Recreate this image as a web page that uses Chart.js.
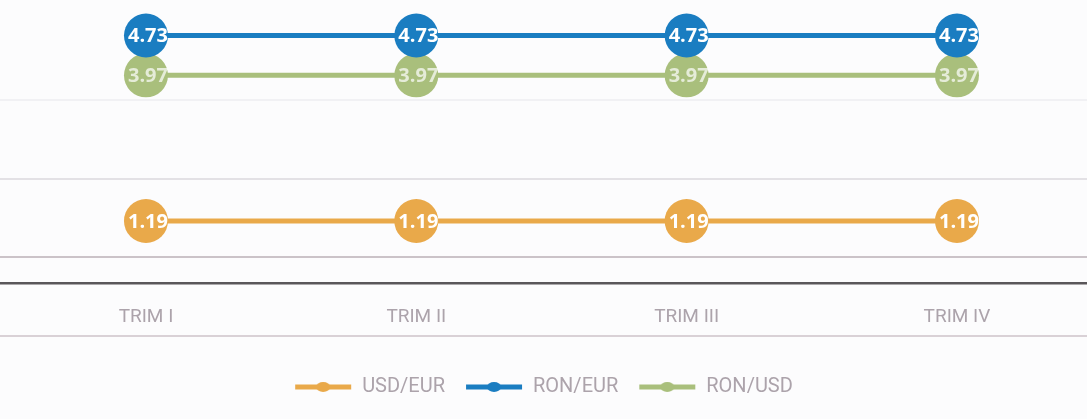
<!DOCTYPE html>
<html>
<head>
<meta charset="utf-8">
<script src="https://cdn.jsdelivr.net/npm/chart.js@4.4.1/dist/chart.umd.min.js"></script>
<style>
html,body{margin:0;padding:0;background:#fcfcfd;}
#wrap{width:1087px;height:419px;position:relative;}
</style>
</head>
<body>
<div id="wrap"><canvas id="c" width="1087" height="419"></canvas></div>
<script>
const categories = ["TRIM I", "TRIM II", "TRIM III", "TRIM IV"];
const usdEur = [1.19, 1.19, 1.19, 1.19];
const ronEur = [4.73, 4.73, 4.73, 4.73];
const ronUsd = [3.97, 3.97, 3.97, 3.97];
const gridValues = [-1, 0.5, 2, 3.5];

const seriesNames = ["USD/EUR", "RON/EUR", "RON/USD"];
const seriesColors = ["#e9a94a", "#1a7dc1", "#a9bf7c"];
const seriesData = [usdEur, ronEur, ronUsd];
const labelColors = ["#ffffff", "#ffffff", "rgba(255,255,255,0.7)"];

const FONT = '"Liberation Sans Narrow", "Roboto", "Open Sans", sans-serif';

function legendSwatch(color){
  const cv = document.createElement('canvas');
  cv.width = 58; cv.height = 12;
  const g = cv.getContext('2d');
  g.strokeStyle = color; g.lineWidth = 5;
  g.beginPath(); g.moveTo(1,6); g.lineTo(57,6); g.stroke();
  g.fillStyle = color;
  g.beginPath(); g.ellipse(29,6,7,5,0,0,Math.PI*2); g.fill();
  return cv;
}
const swatches = seriesColors.map(legendSwatch);

const valueLabels = {
  id: 'valueLabels',
  afterDatasetsDraw(chart){
    const ctx = chart.ctx;
    ctx.save();
    ctx.font = 'bold 20px "Open Sans", sans-serif';
    ctx.textAlign = 'center';
    ctx.textBaseline = 'middle';
    chart.data.datasets.forEach((ds, i) => {
      const meta = chart.getDatasetMeta(i);
      ctx.fillStyle = labelColors[i];
      meta.data.forEach((el, j) => {
        ctx.fillText(seriesData[i][j].toFixed(2), el.x + 2, el.y + 1);
      });
    });
    ctx.restore();
  }
};

const PX_PER_UNIT = 52.4;
const ZERO_Y = 283.4;

new Chart(document.getElementById('c'), {
  type: 'line',
  data: {
    datasets: seriesData.map((arr, i) => ({
      label: seriesNames[i],
      data: arr.map((v, j) => ({x: j, y: v})),
      borderColor: seriesColors[i],
      backgroundColor: seriesColors[i],
      borderWidth: 5,
      pointRadius: 22,
      pointHoverRadius: 22,
      pointBorderWidth: 0,
      pointBackgroundColor: seriesColors[i],
      tension: 0,
      clip: false
    }))
  },
  options: {
    responsive: false,
    animation: false,
    events: [],
    layout: {autoPadding: false, padding: {left: 0, right: 0, top: 0, bottom: 12}},
    plugins: {
      tooltip: {enabled: false},
      legend: {
        position: 'bottom',
        labels: {
          usePointStyle: true,
          pointStyleWidth: 58,
          boxHeight: 12,
          padding: 20,
          color: '#aca3ab',
          font: {family: FONT, size: 20},
          generateLabels(chart){
            return chart.data.datasets.map((ds, i) => ({
              text: ds.label,
              pointStyle: swatches[i],
              fillStyle: seriesColors[i],
              strokeStyle: seriesColors[i],
              lineWidth: 0,
              fontColor: '#aca3ab',
              datasetIndex: i,
              hidden: false
            }));
          }
        }
      }
    },
    scales: {
      x: {
        type: 'linear',
        bounds: 'data',
        position: {y: 0},
        min: -0.540,
        max: 3.481,
        afterBuildTicks(scale){
          scale.ticks = categories.map((c, i) => ({value: i}));
        },
        afterFit(scale){ scale.paddingLeft = 0; scale.paddingRight = 0; },
        grid: {display: false, drawTicks: false},
        border: {display: true, color: '#5a575a', width: 2.5},
        ticks: {
          padding: 22,
          color: '#aca3ab',
          font: {family: FONT, size: 19},
          callback: (v) => categories[v] ?? ''
        }
      },
      y: {
        type: 'linear',
        bounds: 'data',
        afterFit(scale){ scale.width = 0; scale.paddingTop = 0; scale.paddingBottom = 0; },
        afterDataLimits(scale){
          scale.max = ZERO_Y / PX_PER_UNIT;
          scale.min = -(scale.height - ZERO_Y) / PX_PER_UNIT;
        },
        afterBuildTicks(scale){
          scale.ticks = gridValues.map(v => ({value: v}));
        },
        grid: {
          drawTicks: false,
          color: (ctx) => {
            const v = ctx.tick && ctx.tick.value;
            if (v === -1) return '#d9d1d6';
            if (v === 0.5) return '#cbc3c8';
            if (v === 2) return '#e3e1e5';
            return '#f1f1f4';
          },
          lineWidth: 2
        },
        border: {display: false},
        ticks: {display: false}
      }
    }
  },
  plugins: [valueLabels]
});
</script>
</body>
</html>
